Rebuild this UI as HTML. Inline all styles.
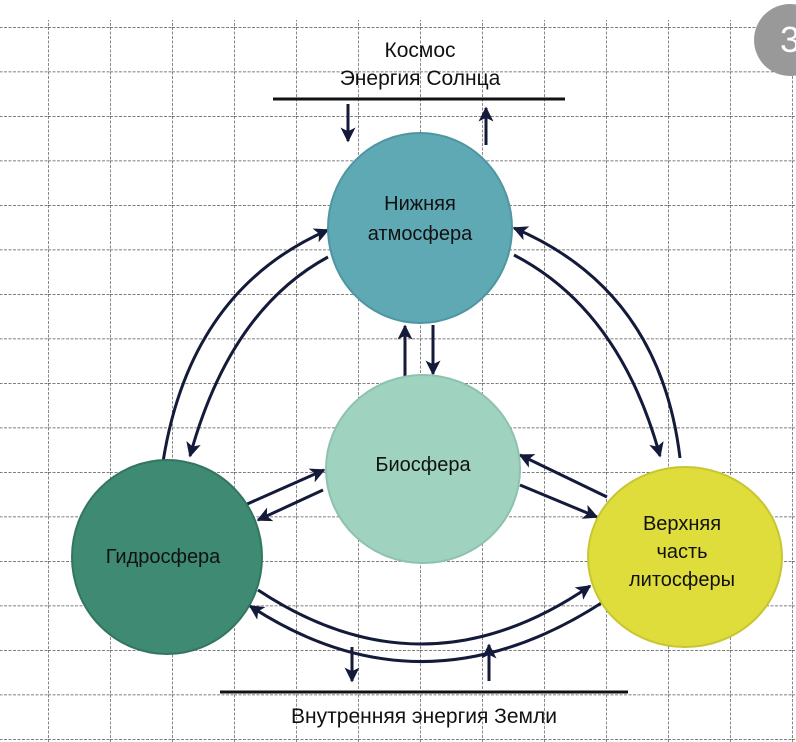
<!DOCTYPE html>
<html><head><meta charset="utf-8"><style>
html,body{margin:0;padding:0;background:#fff;}
svg{display:block;}
text{font-family:"Liberation Sans",sans-serif;fill:#111;}
</style></head><body>
<svg width="796" height="742" viewBox="0 0 796 742" xmlns="http://www.w3.org/2000/svg">
<defs>
<pattern id="g" x="48" y="27" width="62" height="44.5" patternUnits="userSpaceOnUse">
<path d="M0 0V44.5M0 0H62" stroke="#555" stroke-width="1.4" stroke-dasharray="3 1.5" fill="none"/>
</pattern>
<marker id="a" viewBox="0 0 10 10" refX="9" refY="5" markerWidth="5" markerHeight="5" orient="auto" markerUnits="strokeWidth">
<path d="M0 0L10 5L0 10L2.5 5Z" fill="#141a3a"/>
</marker>
</defs>
<rect width="796" height="742" fill="#fff"/>
<rect x="0" y="20" width="796" height="722" fill="url(#g)"/>
<circle cx="790" cy="40" r="36" fill="#999"/>
<text x="790" y="52" font-size="36" fill="#fff" style="fill:#fff" text-anchor="middle">3</text>

<line x1="273" y1="99" x2="565" y2="99" stroke="#111" stroke-width="3"/>
<text x="420" y="57" font-size="21" text-anchor="middle">Космос</text>
<text x="420" y="85" font-size="21" text-anchor="middle">Энергия Солнца</text>
<line x1="220" y1="692" x2="628" y2="692" stroke="#111" stroke-width="3"/>
<text x="424" y="723" font-size="21" text-anchor="middle">Внутренняя энергия Земли</text>

<g stroke="#141a3a" stroke-width="3" fill="none" marker-end="url(#a)">
<line x1="348" y1="104" x2="348" y2="141"/>
<line x1="486" y1="145" x2="486" y2="108"/>
<line x1="352" y1="647" x2="352" y2="681"/>
<line x1="489" y1="681" x2="489" y2="645"/>
<line x1="405" y1="376" x2="405" y2="326"/>
<line x1="433" y1="325" x2="433" y2="374"/>
<path d="M163 462 Q190 290 328 230"/>
<path d="M328 257 Q230 310 190 456"/>
<path d="M680 458 Q660 290 514 228"/>
<path d="M514 255 Q620 310 660 456"/>
<path d="M245 505 L324 470"/>
<path d="M323 490 L258 520"/>
<path d="M607 497 L520 455"/>
<path d="M520 485 L597 517"/>
<path d="M258 590 Q424 700 590 586"/>
<path d="M606 600 Q424 720 250 606"/>
</g>

<ellipse cx="420" cy="228" rx="92" ry="95" fill="#5fa9b5" stroke="#4f96a2" stroke-width="2"/>
<ellipse cx="423" cy="469" rx="97" ry="94" fill="#9fd3c0" stroke="#8cc2ae" stroke-width="2"/>
<ellipse cx="167" cy="557" rx="95" ry="97" fill="#3e8a72" stroke="#327560" stroke-width="2"/>
<ellipse cx="685" cy="557" rx="97" ry="90" fill="#dedd3c" stroke="#c8c630" stroke-width="2"/>

<text x="420" y="210" font-size="20" text-anchor="middle">Нижняя</text>
<text x="420" y="240" font-size="20" text-anchor="middle">атмосфера</text>
<text x="423" y="471" font-size="20" text-anchor="middle">Биосфера</text>
<text x="163" y="563" font-size="20" text-anchor="middle">Гидросфера</text>
<text x="682" y="530" font-size="20" text-anchor="middle">Верхняя</text>
<text x="682" y="558" font-size="20" text-anchor="middle">часть</text>
<text x="682" y="586" font-size="20" text-anchor="middle">литосферы</text>
</svg>
</body></html>
